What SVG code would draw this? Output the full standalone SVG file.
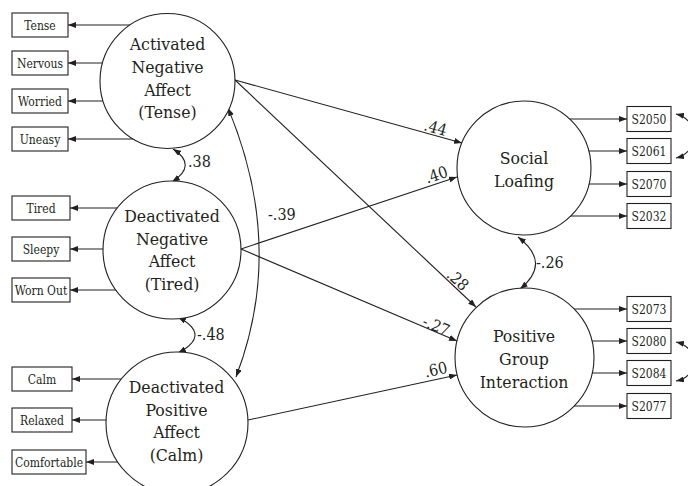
<svg xmlns="http://www.w3.org/2000/svg" width="688" height="486" viewBox="0 0 688 486">
<style>
text{font-family:'DejaVu Serif','Liberation Serif',serif;font-stretch:condensed;fill:#231f20}
.big{font-size:17.5px;text-anchor:middle}
.bx{font-size:12px;text-anchor:middle}
.lbl{font-size:16px}
.lblc{font-size:16px;text-anchor:middle}
.c{fill:#fff;stroke:#231f20;stroke-width:1.1}
.r{fill:#fff;stroke:#231f20;stroke-width:1.1}
.ln{fill:none;stroke:#231f20;stroke-width:1.1;marker-end:url(#ah)}
.cv{fill:none;stroke:#231f20;stroke-width:1.1;marker-start:url(#ah);marker-end:url(#ah)}
</style>
<defs>
<marker id="ah" viewBox="0 0 8 6" refX="8" refY="3" markerWidth="8" markerHeight="6" markerUnits="userSpaceOnUse" orient="auto-start-reverse">
<path d="M0,0 L8,3 L0,6 z" fill="#231f20"/>
</marker>
</defs>
<rect width="688" height="486" fill="#fff"/>
<g id="connectors">
<line class="ln" x1="150" y1="25" x2="68" y2="25"/>
<line class="ln" x1="150" y1="63" x2="68" y2="63"/>
<line class="ln" x1="150" y1="101" x2="68" y2="101"/>
<line class="ln" x1="150" y1="139" x2="68" y2="139"/>
<line class="ln" x1="160" y1="208" x2="70" y2="208"/>
<line class="ln" x1="160" y1="249" x2="70" y2="249"/>
<line class="ln" x1="160" y1="290" x2="70" y2="290"/>
<line class="ln" x1="160" y1="379" x2="72" y2="379"/>
<line class="ln" x1="160" y1="420" x2="72" y2="420"/>
<line class="ln" x1="160" y1="462" x2="86" y2="462"/>
<line class="ln" x1="540" y1="119" x2="627" y2="119"/>
<line class="ln" x1="540" y1="151" x2="627" y2="151"/>
<line class="ln" x1="540" y1="184" x2="627" y2="184"/>
<line class="ln" x1="540" y1="216" x2="627" y2="216"/>
<line class="ln" x1="540" y1="309" x2="627" y2="309"/>
<line class="ln" x1="540" y1="341" x2="627" y2="341"/>
<line class="ln" x1="540" y1="373" x2="627" y2="373"/>
<line class="ln" x1="540" y1="406" x2="627" y2="406"/>
<line class="ln" x1="235" y1="80" x2="462" y2="143"/>
<line class="ln" x1="235" y1="80" x2="476" y2="307"/>
<line class="ln" x1="241" y1="249" x2="457" y2="177"/>
<line class="ln" x1="241" y1="249" x2="457" y2="341"/>
<line class="ln" x1="248" y1="420" x2="457" y2="375"/>
<path class="cv" d="M173,149 Q198,165 172,182"/>
<path class="cv" d="M178,317 Q212,335 178,353"/>
<path class="cv" d="M228,108 Q286,247 236,377"/>
<path class="cv" d="M518,237 Q552,263 520,289"/>
<path class="cv" d="M676,114 C700,120 700,152 676,158"/>
<path class="cv" d="M676,342 C700,348 700,376 676,381"/>
<text class="lblc" transform="translate(434,133) rotate(15.5)">.44</text>
<text class="lblc" transform="translate(438,180) rotate(-18.4)">.40</text>
<text class="lblc" transform="translate(454,284) rotate(43)">.28</text>
<text class="lblc" transform="translate(434,331) rotate(23)">-.27</text>
<text class="lblc" transform="translate(437,375) rotate(-12.2)">.60</text>
<text class="lbl" x="268" y="220">-.39</text>
<text class="lbl" x="188" y="167">.38</text>
<text class="lbl" x="197" y="340">-.48</text>
<text class="lbl" x="536" y="268">-.26</text>
</g>
<g id="n-activated">
<circle class="c" cx="167.5" cy="81" r="67.5"/>
<text class="big" x="167.5" y="50">Activated</text>
<text class="big" x="167.5" y="73">Negative</text>
<text class="big" x="167.5" y="96">Affect</text>
<text class="big" x="167.5" y="118">(Tense)</text>
</g>
<g id="n-deactneg">
<circle class="c" cx="172" cy="250" r="69"/>
<text class="big" x="172" y="222">Deactivated</text>
<text class="big" x="172" y="244.5">Negative</text>
<text class="big" x="172" y="267">Affect</text>
<text class="big" x="172" y="289.5">(Tired)</text>
</g>
<g id="n-deactpos">
<circle class="c" cx="177" cy="423" r="71"/>
<text class="big" x="176.5" y="393">Deactivated</text>
<text class="big" x="176.5" y="415.5">Positive</text>
<text class="big" x="176.5" y="438">Affect</text>
<text class="big" x="176.5" y="461">(Calm)</text>
</g>
<g id="n-social">
<circle class="c" cx="524" cy="168" r="67"/>
<text class="big" x="524" y="164">Social</text>
<text class="big" x="524" y="187">Loafing</text>
</g>
<g id="n-pgi">
<circle class="c" cx="524.5" cy="357.5" r="69.5"/>
<text class="big" x="524" y="342">Positive</text>
<text class="big" x="524" y="365">Group</text>
<text class="big" x="524" y="388">Interaction</text>
</g>
<g id="b-tense"><rect class="r" x="12" y="13" width="56" height="24"/><text class="bx" x="40" y="29.5">Tense</text></g>
<g id="b-nervous"><rect class="r" x="12" y="51" width="56" height="24"/><text class="bx" x="40" y="67.5">Nervous</text></g>
<g id="b-worried"><rect class="r" x="12" y="89" width="56" height="24"/><text class="bx" x="40" y="105.5">Worried</text></g>
<g id="b-uneasy"><rect class="r" x="12" y="127" width="56" height="24"/><text class="bx" x="40" y="143.5">Uneasy</text></g>
<g id="b-tired"><rect class="r" x="12" y="196" width="58" height="24"/><text class="bx" x="41" y="212.5">Tired</text></g>
<g id="b-sleepy"><rect class="r" x="12" y="237" width="58" height="24"/><text class="bx" x="41" y="253.5">Sleepy</text></g>
<g id="b-wornout"><rect class="r" x="12" y="278" width="58" height="24"/><text class="bx" x="41" y="294.5">Worn Out</text></g>
<g id="b-calm"><rect class="r" x="12" y="367" width="60" height="24"/><text class="bx" x="42" y="383.5">Calm</text></g>
<g id="b-relaxed"><rect class="r" x="12" y="408" width="60" height="24"/><text class="bx" x="42" y="424.5">Relaxed</text></g>
<g id="b-comfortable"><rect class="r" x="12" y="450" width="74" height="24"/><text class="bx" x="49" y="466.5">Comfortable</text></g>
<g id="b-s2050"><rect class="r" x="627" y="106.5" width="44" height="25"/><text class="bx" x="649" y="123.5">S2050</text></g>
<g id="b-s2061"><rect class="r" x="627" y="138.5" width="44" height="25"/><text class="bx" x="649" y="155.5">S2061</text></g>
<g id="b-s2070"><rect class="r" x="627" y="171.5" width="44" height="25"/><text class="bx" x="649" y="188.5">S2070</text></g>
<g id="b-s2032"><rect class="r" x="627" y="203.5" width="44" height="25"/><text class="bx" x="649" y="220.5">S2032</text></g>
<g id="b-s2073"><rect class="r" x="627" y="296.5" width="44" height="25"/><text class="bx" x="649" y="313.5">S2073</text></g>
<g id="b-s2080"><rect class="r" x="627" y="328.5" width="44" height="25"/><text class="bx" x="649" y="345.5">S2080</text></g>
<g id="b-s2084"><rect class="r" x="627" y="360.5" width="44" height="25"/><text class="bx" x="649" y="377.5">S2084</text></g>
<g id="b-s2077"><rect class="r" x="627" y="393.5" width="44" height="25"/><text class="bx" x="649" y="410.5">S2077</text></g>
</svg>
